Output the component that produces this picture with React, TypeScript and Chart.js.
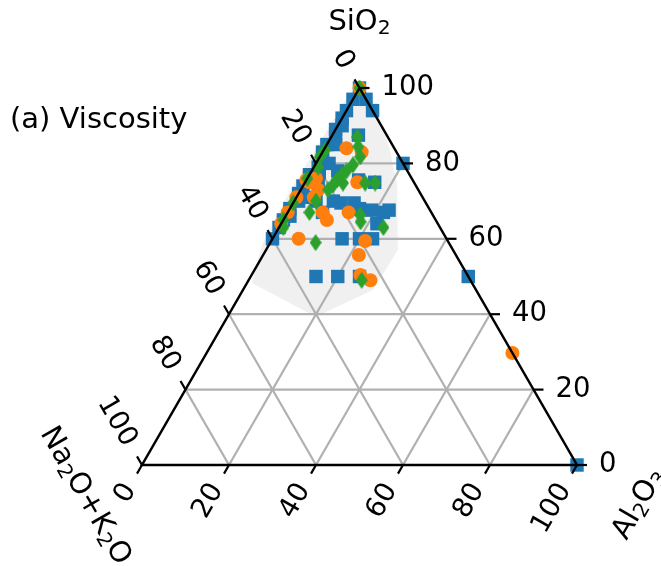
import { useEffect, useRef } from "react";
import { Chart, registerables } from "chart.js";

Chart.register(...registerables);

// Compositions as [SiO2, Al2O3, Na2O+K2O] in wt%
const squaresSeries: [number, number, number][] = [
  [100, 0, 0], [97, 3, 0], [94, 6, 0], [80, 20, 0], [50, 50, 0], [0, 100, 0],
  [97, 0, 3], [94, 0, 6], [92, 0, 8], [89, 0, 11], [87, 1, 12], [85, 0, 15],
  [83, 0, 17], [81, 1, 18], [79, 1, 20], [77, 0, 23], [77.5, 2, 20.5], [74, 0, 26],
  [72, 0, 28], [70, 1, 29], [68, 0, 32], [65, 0, 35], [63, 0, 37], [60, 0, 40],
  [85, 2, 13], [80, 3, 17], [90, 1, 9], [71, 2, 27], [66, 1, 33],
  [87.5, 6, 6.5], [75.6, 12, 12.4], [78, 6, 16], [75, 3, 22], [70, 5, 25], [70, 9, 21],
  [69.5, 11, 19.5], [69.5, 14, 16.5], [68, 16, 16], [67.6, 19, 13.4], [67, 22, 11],
  [64, 22, 14], [67, 8, 25], [75, 16, 9], [67.6, 23, 9.4], [60, 16, 24], [60, 20, 20],
  [60, 23, 17], [50, 15, 35], [50, 20, 30], [50, 25, 25],
];

const circlesSeries: [number, number, number][] = [
  [100, 0, 0], [84, 5, 11], [83, 9, 8], [75.6, 0, 24.4], [76, 2, 22], [73, 4, 23],
  [71, 0, 29], [67, 0, 33], [64, 0, 36], [67, 8, 25], [65, 10, 25], [67, 14, 19],
  [75, 12, 13], [60, 6, 34], [59.4, 21.6, 19], [55.7, 22, 22.3], [50.4, 25, 24.6],
  [49, 28, 23], [29.7, 70.3, 0], [71, 4, 25], [75, 1, 24],
];

const diamondsSeries: [number, number, number][] = [
  [100, 0, 0], [87, 6, 7], [84.4, 7.5, 8.1], [81.7, 9.3, 9], [79.6, 8.7, 11.7],
  [78, 8, 14], [77, 7.5, 15.5], [75.6, 7, 17.4], [74.3, 6.8, 18.9], [73, 6.3, 20.7],
  [74.8, 13.9, 11.3], [74.8, 16.2, 9], [81.7, 0, 18.3], [67, 5, 28], [70, 5, 25],
  [69.5, 0, 30.5], [65, 0, 35], [66.3, 17, 16.7], [64.5, 18, 17.5], [63, 24, 13],
  [59, 10.4, 30.6], [49, 26, 25], [83.6, 0.3, 16.1], [76, 0, 24], [74.8, 8.8, 16.4],
  [79, 1, 20], [63, 1, 36],
];

// Outline of the shaded domain, [SiO2, Al2O3]
const domainOutline: [number, number][] = [
  [101.6, -0.9], [97.3, 3.8], [91.5, 9], [83.6, 15.2], [74.3, 21.5], [57, 30.3],
  [46.4, 29.9], [39.3, 20.3], [48.3, 1.1], [58.4, -1.6], [70.3, -2.3], [83.6, -2],
  [96.8, -1.7],
];

const tickValues = [0, 20, 40, 60, 80, 100];
const gridValues = [20, 40, 60, 80];
const panelLabel = "(a) Viscosity";
const topTitle: [string, boolean][] = [["SiO", false], ["2", true]];
const leftTitle: [string, boolean][] = [["Na", false], ["2", true], ["O+K", false], ["2", true], ["O", false]];
const rightTitle: [string, boolean][] = [["Al", false], ["2", true], ["O", false], ["3", true]];

const SQ3_2 = Math.sqrt(3) / 2;
const FONT = "'DejaVu Sans', sans-serif";
const TICK_FS = 27.5;
const TITLE_FS = 29;

const toXY = (s: number, al: number) => ({ x: al + s / 2, y: s * SQ3_2 });

function drawRich(ctx: CanvasRenderingContext2D, parts: [string, boolean][], size: number) {
  const subSize = size * 0.7;
  let w = 0;
  const widths = parts.map(([t, sub]) => {
    ctx.font = `${sub ? subSize : size}px ${FONT}`;
    const m = ctx.measureText(t).width;
    w += m;
    return m;
  });
  let x = -w / 2;
  ctx.textBaseline = "middle";
  ctx.textAlign = "left";
  parts.forEach(([t, sub], i) => {
    ctx.font = `${sub ? subSize : size}px ${FONT}`;
    ctx.fillText(t, x, sub ? size * 0.22 : 0);
    x += widths[i];
  });
}

const ternaryPlugin = {
  id: "ternaryFrame",
  beforeDatasetsDraw(chart: any) {
    const { ctx, scales } = chart;
    const P = (s: number, al: number) => [
      scales.x.getPixelForValue(al + s / 2),
      scales.y.getPixelForValue(s * SQ3_2),
    ];
    ctx.save();
    // shaded domain
    ctx.beginPath();
    domainOutline.forEach(([s, al], i) => {
      const [x, y] = P(s, al);
      if (i === 0) ctx.moveTo(x, y);
      else ctx.lineTo(x, y);
    });
    ctx.closePath();
    ctx.fillStyle = "#f0f0f0";
    ctx.fill();
    // grid
    ctx.strokeStyle = "#b0b0b0";
    ctx.lineWidth = 2.2;
    gridValues.forEach((t) => {
      const segs = [
        [P(t, 0), P(t, 100 - t)],
        [P(0, t), P(100 - t, t)],
        [P(0, 100 - t), P(100 - t, 0)],
      ];
      segs.forEach(([a, b]) => {
        ctx.beginPath();
        ctx.moveTo(a[0], a[1]);
        ctx.lineTo(b[0], b[1]);
        ctx.stroke();
      });
    });
    ctx.restore();
  },
  afterDatasetsDraw(chart: any) {
    const { ctx, scales } = chart;
    const P = (s: number, al: number) => [
      scales.x.getPixelForValue(al + s / 2),
      scales.y.getPixelForValue(s * SQ3_2),
    ];
    ctx.save();
    ctx.strokeStyle = "#000";
    ctx.lineWidth = 2.5;
    ctx.lineJoin = "miter";
    const top = P(100, 0), bl = P(0, 0), br = P(0, 100);
    ctx.beginPath();
    ctx.moveTo(top[0], top[1]);
    ctx.lineTo(bl[0], bl[1]);
    ctx.lineTo(br[0], br[1]);
    ctx.closePath();
    ctx.stroke();

    ctx.fillStyle = "#000";
    ctx.lineWidth = 2.2;
    const TL = 10, PAD = 24;
    ctx.font = `${TICK_FS}px ${FONT}`;
    tickValues.forEach((t) => {
      const label = String(t);
      const w = ctx.measureText(label).width;
      // SiO2 on the right edge
      const [rx, ry] = P(t, 100 - t);
      ctx.beginPath();
      ctx.moveTo(rx, ry);
      ctx.lineTo(rx + TL, ry);
      ctx.stroke();
      ctx.textAlign = "left";
      ctx.textBaseline = "middle";
      ctx.fillText(label, rx + 22, ry);
      // Na2O+K2O on the left edge
      const [lx, ly] = P(100 - t, 0);
      const ldx = -0.5, ldy = -SQ3_2;
      ctx.beginPath();
      ctx.moveTo(lx, ly);
      ctx.lineTo(lx + ldx * TL, ly + ldy * TL);
      ctx.stroke();
      ctx.save();
      ctx.translate(lx + ldx * (PAD + w / 2), ly + ldy * (PAD + w / 2));
      ctx.rotate(Math.PI / 3);
      ctx.textAlign = "center";
      ctx.fillText(label, 0, 0);
      ctx.restore();
      // Al2O3 on the bottom edge
      const [bx, by] = P(0, t);
      const bdx = -0.5, bdy = SQ3_2;
      ctx.beginPath();
      ctx.moveTo(bx, by);
      ctx.lineTo(bx + bdx * TL, by + bdy * TL);
      ctx.stroke();
      ctx.save();
      ctx.translate(bx + bdx * (PAD + w / 2), by + bdy * (PAD + w / 2));
      ctx.rotate(-Math.PI / 3);
      ctx.textAlign = "center";
      ctx.fillText(label, 0, 0);
      ctx.restore();
    });

    // axis titles
    ctx.save();
    ctx.translate(top[0], top[1] - 66);
    drawRich(ctx, topTitle, TITLE_FS);
    ctx.restore();
    ctx.save();
    ctx.translate(bl[0] - 57, bl[1] + 31);
    ctx.rotate(Math.PI / 3);
    drawRich(ctx, leftTitle, TITLE_FS);
    ctx.restore();
    ctx.save();
    ctx.translate(br[0] + 62, br[1] + 39);
    ctx.rotate(-Math.PI / 3);
    drawRich(ctx, rightTitle, TITLE_FS);
    ctx.restore();

    ctx.font = `${TITLE_FS}px ${FONT}`;
    ctx.textAlign = "left";
    ctx.textBaseline = "alphabetic";
    ctx.fillText(panelLabel, 10, 128);
    ctx.restore();
  },
};

function makeDiamond(): HTMLCanvasElement {
  const c = document.createElement("canvas");
  c.width = 12;
  c.height = 17;
  const g = c.getContext("2d")!;
  g.fillStyle = "#2ca02c";
  g.beginPath();
  g.moveTo(6, 0);
  g.lineTo(12, 8.5);
  g.lineTo(6, 17);
  g.lineTo(0, 8.5);
  g.closePath();
  g.fill();
  return c;
}

export default function App() {
  const ref = useRef<HTMLCanvasElement | null>(null);
  useEffect(() => {
    if (!ref.current) return;
    const diamond = makeDiamond();
    const pts = (arr: [number, number, number][]) => arr.map(([s, al]) => toXY(s, al));
    const chart = new Chart(ref.current, {
      type: "scatter",
      data: {
        datasets: [
          {
            label: "diamonds",
            data: pts(diamondsSeries),
            pointStyle: diamond as any,
            backgroundColor: "#2ca02c",
            borderWidth: 0,
            clip: false as any,
          },
          {
            label: "circles",
            data: pts(circlesSeries),
            pointStyle: "circle",
            pointRadius: 7,
            backgroundColor: "#ff7f0e",
            borderWidth: 0,
            clip: false as any,
          },
          {
            label: "squares",
            data: pts(squaresSeries),
            pointStyle: "rect",
            pointRadius: 9.5,
            backgroundColor: "#1f77b4",
            borderWidth: 0,
            clip: false as any,
          },
        ],
      },
      options: {
        responsive: false,
        animation: false,
        events: [],
        layout: { padding: { left: 142, right: 84, top: 88, bottom: 101 } },
        plugins: { legend: { display: false }, tooltip: { enabled: false } },
        scales: {
          x: { type: "linear", min: 0, max: 100, display: false },
          y: { type: "linear", min: 0, max: 100 * SQ3_2, display: false },
        },
      },
      plugins: [ternaryPlugin],
    });
    return () => chart.destroy();
  }, []);
  return (
    <div style={{ position: "fixed", left: 0, top: 0, width: 661, height: 566, background: "#fff" }}>
      <canvas ref={ref} width={661} height={566} style={{ display: "block" }} />
    </div>
  );
}
